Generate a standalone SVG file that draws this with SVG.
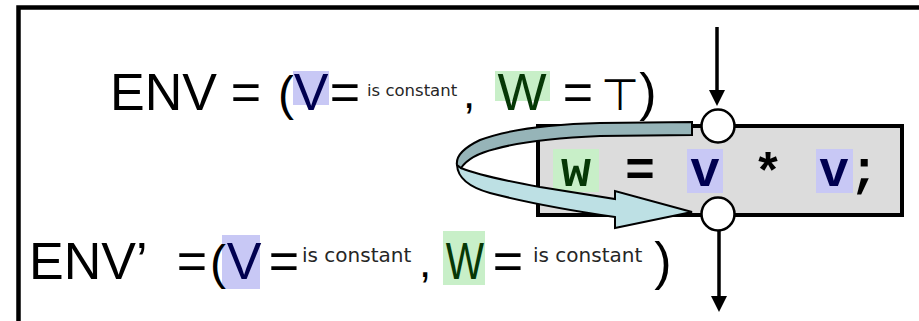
<svg xmlns="http://www.w3.org/2000/svg" width="919" height="321" viewBox="0 0 919 321">
<style>
.t{font-family:"Liberation Sans",Arial,sans-serif;font-size:52px;fill:#000}
.m{font-family:"Liberation Mono","Courier New",monospace;font-size:50px;font-weight:bold;text-anchor:middle}
.h{font-family:"DejaVu Sans",sans-serif;fill:#262626}
.c{text-anchor:middle}
.k{font-size:44px}
.gb{fill:#c8efc8}
.bb{fill:#c8c8f5}
.node{fill:#fff;stroke:#000;stroke-width:2.5}
.conn{stroke:#000;stroke-width:3.5;fill:none}
.head{fill:#000}
</style>
<rect x="18.5" y="7.5" width="1000" height="400" fill="none" stroke="#000" stroke-width="4.5"/>

<g id="env">
<text class="t" x="110" y="110">ENV</text>
<text class="t c" x="246" y="110">=</text>
<text class="t c" x="286" y="110" style="font-size:48px">(</text>
<rect class="bb" x="293" y="71" width="36" height="34"/>
<text class="t c" x="311" y="110" style="fill:#000050">V</text>
<text class="t c" x="345" y="110">=</text>
<text class="h" x="367" y="96" font-size="16.5">is constant</text>
<text class="t c k" x="469" y="108">,</text>
<rect class="gb" x="495" y="71" width="55" height="30"/>
<text class="t c" x="522" y="110" style="fill:#063806">W</text>
<text class="t c" x="578" y="110">=</text>
<text class="t c" x="620" y="110" style="font-family:'DejaVu Sans',sans-serif;font-size:44px">⊤</text>
<text class="t c" x="648" y="110">)</text>
</g>

<g id="env2">
<text class="t" x="29" y="279">ENV’</text>
<text class="t c" x="192" y="279">=</text>
<rect class="bb" x="222" y="235" width="38" height="54"/>
<text class="t c" x="218" y="279" style="font-size:48px">(</text>
<text class="t c" x="244" y="279" style="fill:#000050">V</text>
<text class="t c" x="284" y="279">=</text>
<text class="h" x="302" y="262" font-size="20">is constant</text>
<text class="t c k" x="425" y="277">,</text>
<rect class="gb" x="443" y="231" width="42" height="54"/>
<text class="t c" transform="translate(465,279) scale(0.78,1)" x="0" y="0" style="fill:#063806">W</text>
<text class="t c" x="508" y="279">=</text>
<text class="h" x="533" y="262" font-size="20">is constant</text>
<text class="t c" x="663" y="279">)</text>
</g>

<g id="stmt">
<rect x="538" y="126" width="364" height="89" fill="#dcdcdc" stroke="#000" stroke-width="4"/>
<rect class="gb" x="553" y="149" width="46" height="43"/>
<rect class="bb" x="687" y="149" width="36" height="44"/>
<rect class="bb" x="816" y="149" width="37" height="44"/>
<text class="m" x="576" y="186" style="fill:#063806">w</text>
<text class="m" x="640" y="186">=</text>
<text class="m" x="705" y="186" style="fill:#000050">v</text>
<text class="m" x="768" y="188">*</text>
<text class="m" x="834" y="186" style="fill:#000050">v</text>
<text class="m" x="864" y="186">;</text>
</g>

<g id="connectors">
<line class="conn" x1="717" y1="27" x2="717" y2="92"/>
<polygon class="head" points="709,90 725,90 717,106"/>
<line class="conn" x1="719" y1="229" x2="719" y2="298"/>
<polygon class="head" points="711,296 727,296 719,312"/>
<path d="M461,168 Q480,176 540,187 L615,199 L615,191 L692,212 L615,228 L615,217 Q540,206 490,193 Q458,184 457,165 Z" fill="#bde0e4" stroke="#000" stroke-width="2"/>
<path d="M692,122 L600,123 Q520,125 480,140 Q455,152 457,165 L461,168 Q470,155 495,149 Q530,139 600,136 L692,135 Z" fill="#96b4b8" stroke="#000" stroke-width="2"/>
</g>

<g id="in-node"><circle class="node" cx="718" cy="126" r="16.5"/></g>
<g id="out-node"><circle class="node" cx="718" cy="214" r="16.5"/></g>
</svg>
